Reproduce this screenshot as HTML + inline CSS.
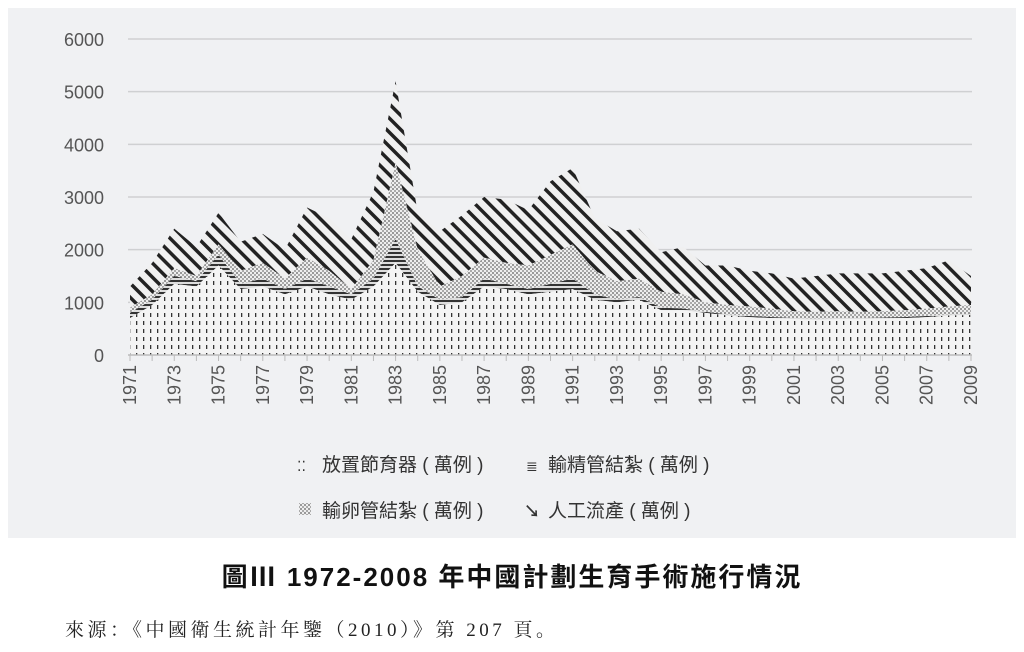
<!DOCTYPE html>
<html><head><meta charset="utf-8"><style>
body{margin:0;width:1024px;height:647px;background:#fff;overflow:hidden;font-family:"Liberation Sans","Noto Sans CJK TC",sans-serif}
</style></head><body>
<svg width="1024" height="647" xmlns="http://www.w3.org/2000/svg">
<defs>
<pattern id="pI" width="7" height="8" patternUnits="userSpaceOnUse"><rect width="7" height="8" fill="#f4f4f4"/><rect x="3" y="1" width="1.3" height="4" fill="#333"/></pattern>
<pattern id="pV" width="6" height="4" patternUnits="userSpaceOnUse"><rect width="6" height="4" fill="#ddd"/><rect y="0" width="6" height="2" fill="#333"/></pattern>
<pattern id="pT" width="4" height="4" patternUnits="userSpaceOnUse"><rect width="4" height="4" fill="#eee"/><rect width="2" height="2" fill="#999"/><rect x="2" y="2" width="2" height="2" fill="#aaa"/></pattern>
<pattern id="pA" width="10" height="10" patternUnits="userSpaceOnUse" patternTransform="rotate(-45)"><rect width="10" height="10" fill="#f0f0f0"/><rect x="0" width="3.5" height="10" fill="#222"/></pattern>
</defs>
<rect x="8" y="8" width="1008" height="530" fill="#f0f1f3"/>
<g id="grid" stroke="#cfd0d2" stroke-width="1.5"></g>
<g id="areas"></g>
<g id="ax" font-size="18" fill="#555"></g>
<g font-size="19" fill="#333">
<text x="297" y="471" font-size="14">⁚⁚</text><text x="322" y="471">放置節育器 ( 萬例 )</text>
<text x="526" y="471" font-size="14">≣</text><text x="548" y="471">輸精管結紮 ( 萬例 )</text>
<rect x="299" y="503" width="12" height="12" fill="url(#pT)"/><text x="322" y="517">輸卵管結紮 ( 萬例 )</text>
<text x="524" y="517" font-weight="bold" font-size="16">↘</text><text x="548" y="517">人工流產 ( 萬例 )</text>
</g>
<text x="512" y="586" text-anchor="middle" font-size="26" font-weight="bold" fill="#111" letter-spacing="2">圖Ⅲ 1972-2008 年中國計劃生育手術施行情況</text>
<text x="65" y="636" font-size="19" fill="#222" letter-spacing="3.5" font-family="'Liberation Serif','Noto Serif CJK SC',serif">來源：《中國衛生統計年鑒（2010）》第 207 頁。</text>
</svg>
<script>
const NS="http://www.w3.org/2000/svg";
const y0=355,sc=316/6000,x0=130,dx=841/38;
const Y=v=>y0-v*sc,X=i=>x0+i*dx;
const I=[700,950,1350,1300,1700,1250,1300,1150,1300,1150,1050,1300,1750,1200,950,1000,1300,1250,1150,1200,1250,1050,1000,1050,850,850,800,750,720,700,680,670,680,680,690,700,720,750,760];
const V=[800,1050,1500,1400,1900,1350,1450,1250,1450,1300,1150,1450,2200,1300,1050,1100,1450,1350,1250,1350,1450,1150,1050,1100,900,880];
for(let i=V.length;i<39;i++)V.push(I[i]+20);
const T=[900,1150,1650,1500,2100,1600,1750,1450,1850,1600,1250,1800,3650,2000,1300,1500,1850,1750,1700,1900,2100,1600,1400,1450,1200,1150,1000,950,920,880,830,820,830,820,830,850,880,920,950];
const A=[1300,1750,2400,2050,2700,2150,2300,2000,2800,2600,2200,3100,5200,2700,2350,2650,3000,2950,2750,3300,3550,2600,2350,2400,1950,2050,1700,1700,1600,1550,1450,1500,1550,1550,1550,1600,1650,1800,1500];
const g=document.getElementById('grid');
for(let k=1;k<=6;k++){const l=document.createElementNS(NS,'line');l.setAttribute('x1',128);l.setAttribute('x2',972);l.setAttribute('y1',Y(k*1000));l.setAttribute('y2',Y(k*1000));g.appendChild(l);}
const ar=document.getElementById('areas');
function area(top,bot,fill){let d='M'+X(0)+','+Y(top[0]);for(let i=1;i<39;i++)d+='L'+X(i)+','+Y(top[i]);for(let i=38;i>=0;i--)d+='L'+X(i)+','+(bot?Y(bot[i]):y0);const p=document.createElementNS(NS,'path');p.setAttribute('d',d+'Z');p.setAttribute('fill',fill);ar.appendChild(p);}
area(A,T,'url(#pA)');area(T,V,'url(#pT)');area(V,I,'url(#pV)');area(I,null,'url(#pI)');
const ax=document.getElementById('ax');
let l=document.createElementNS(NS,'line');l.setAttribute('x1',128);l.setAttribute('x2',972);l.setAttribute('y1',y0);l.setAttribute('y2',y0);l.setAttribute('stroke','#bbb');l.setAttribute('stroke-width',1.5);ax.appendChild(l);
for(let k=0;k<=6;k++){const t=document.createElementNS(NS,'text');t.setAttribute('x',104);t.setAttribute('y',Y(k*1000)+7);t.setAttribute('text-anchor','end');t.textContent=k*1000;ax.appendChild(t);}
for(let i=0;i<39;i++){const tk=document.createElementNS(NS,'line');tk.setAttribute('x1',X(i));tk.setAttribute('x2',X(i));tk.setAttribute('y1',y0);tk.setAttribute('y2',y0+6);tk.setAttribute('stroke','#bbb');ax.appendChild(tk);
if(i%2==0){const t=document.createElementNS(NS,'text');const x=X(i)+6,y=y0+10;t.setAttribute('transform',`translate(${x},${y}) rotate(-90)`);t.setAttribute('text-anchor','end');t.textContent=1971+i;ax.appendChild(t);}}
</script>
</body></html>
